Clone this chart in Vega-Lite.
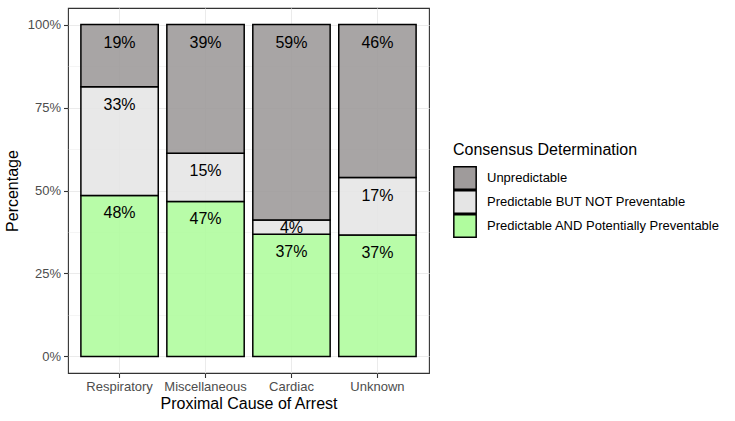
{
  "$schema": "https://vega.github.io/schema/vega-lite/v6.json",
  "autosize": "none",
  "width": 361,
  "height": 365,
  "padding": {"left": 68, "top": 8, "right": 306, "bottom": 48},
  "background": "white",
  "data": {
    "values": [
      {"cause": "Respiratory", "determination": "Predictable AND Potentially Preventable", "k": 1, "pct": 48.5, "label": "48%"},
      {"cause": "Respiratory", "determination": "Predictable BUT NOT Preventable", "k": 2, "pct": 32.8, "label": "33%"},
      {"cause": "Respiratory", "determination": "Unpredictable", "k": 3, "pct": 18.7, "label": "19%"},
      {"cause": "Miscellaneous", "determination": "Predictable AND Potentially Preventable", "k": 1, "pct": 46.7, "label": "47%"},
      {"cause": "Miscellaneous", "determination": "Predictable BUT NOT Preventable", "k": 2, "pct": 14.5, "label": "15%"},
      {"cause": "Miscellaneous", "determination": "Unpredictable", "k": 3, "pct": 38.8, "label": "39%"},
      {"cause": "Cardiac", "determination": "Predictable AND Potentially Preventable", "k": 1, "pct": 36.8, "label": "37%"},
      {"cause": "Cardiac", "determination": "Predictable BUT NOT Preventable", "k": 2, "pct": 4.3, "label": "4%"},
      {"cause": "Cardiac", "determination": "Unpredictable", "k": 3, "pct": 58.9, "label": "59%"},
      {"cause": "Unknown", "determination": "Predictable AND Potentially Preventable", "k": 1, "pct": 36.6, "label": "37%"},
      {"cause": "Unknown", "determination": "Predictable BUT NOT Preventable", "k": 2, "pct": 17.3, "label": "17%"},
      {"cause": "Unknown", "determination": "Unpredictable", "k": 3, "pct": 46.1, "label": "46%"}
    ]
  },
  "transform": [
    {"stack": "pct", "groupby": ["cause"], "sort": [{"field": "k", "order": "ascending"}], "as": ["y0", "y1"]}
  ],
  "encoding": {
    "x": {
      "field": "cause",
      "type": "nominal",
      "sort": ["Respiratory", "Miscellaneous", "Cardiac", "Unknown"],
      "scale": {"paddingInner": 0.1, "paddingOuter": 0.15},
      "axis": {
        "title": "Proximal Cause of Arrest",
        "labelAngle": 0,
        "grid": true,
        "bandPosition": 0.5
      }
    },
    "y": {
      "field": "y1",
      "type": "quantitative",
      "scale": {"domain": [-5, 105], "nice": false, "zero": false},
      "axis": {
        "title": "Percentage",
        "values": [0, 12.5, 25, 37.5, 50, 62.5, 75, 87.5, 100],
        "labelExpr": "datum.value % 25 == 0 ? datum.value + '%' : ''",
        "tickOpacity": {"condition": {"test": "datum.value % 25 != 0", "value": 0}, "value": 1},
        "gridWidth": {"condition": {"test": "datum.value % 25 != 0", "value": 0.5}, "value": 1.1}
      }
    }
  },
  "layer": [
    {
      "mark": {"type": "bar", "stroke": "black", "strokeWidth": 1.5, "fillOpacity": 0.9},
      "encoding": {
        "y2": {"field": "y0"},
        "fill": {
          "field": "determination",
          "type": "nominal",
          "scale": {
            "domain": ["Unpredictable", "Predictable BUT NOT Preventable", "Predictable AND Potentially Preventable"],
            "range": ["#9f9b9b", "#e5e5e5", "#b0fc9e"]
          },
          "legend": {
            "title": "Consensus Determination",
            "orient": "none",
            "legendX": 385,
            "legendY": 134,
            "symbolType": "square",
            "symbolSize": 500,
            "symbolStrokeColor": "black",
            "symbolStrokeWidth": 1.5,
            "symbolOpacity": 1,
            "clipHeight": 24,
            "rowPadding": 0,
            "labelOffset": 10,
            "labelLimit": 0,
            "titleLimit": 0,
            "titlePadding": 8
          }
        }
      }
    },
    {
      "transform": [{"filter": "datum.pct >= 10"}],
      "mark": {"type": "text", "baseline": "middle", "dy": 18, "fontSize": 16, "font": "Liberation Sans", "color": "black"},
      "encoding": {"text": {"field": "label"}}
    },
    {
      "transform": [{"filter": "datum.pct < 10"}],
      "mark": {"type": "text", "baseline": "middle", "dy": 8, "fontSize": 16, "font": "Liberation Sans", "color": "black"},
      "encoding": {"text": {"field": "label"}}
    }
  ],
  "config": {
    "font": "Liberation Sans",
    "view": {"stroke": "#333333", "strokeWidth": 1.1},
    "axis": {
      "domain": false,
      "gridColor": "#ebebeb",
      "tickColor": "#333333",
      "tickSize": 4.5,
      "tickWidth": 1.1,
      "labelColor": "#4d4d4d",
      "labelFont": "Liberation Sans",
      "labelFontSize": 13,
      "labelPadding": 3,
      "titleFont": "Liberation Sans",
      "titleFontSize": 16,
      "titleFontWeight": "normal",
      "titleColor": "black"
    },
    "axisX": {"titlePadding": 2},
    "axisY": {"titlePadding": 7},
    "legend": {
      "titleFont": "Liberation Sans",
      "titleFontSize": 16,
      "titleFontWeight": "normal",
      "titleColor": "black",
      "labelFont": "Liberation Sans",
      "labelFontSize": 13,
      "labelColor": "black"
    }
  }
}
